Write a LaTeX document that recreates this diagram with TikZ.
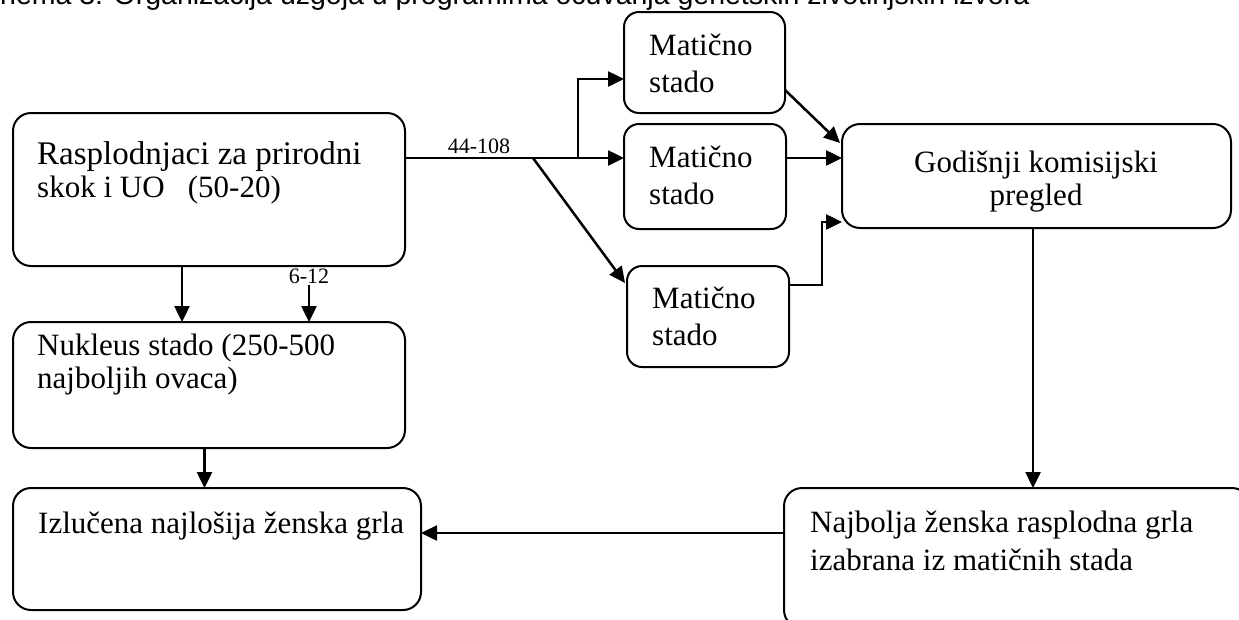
\documentclass[tikz,border=0pt]{standalone}
\usepackage{fontspec}
\newfontfamily\bodyfont{Liberation Serif}
\newfontfamily\capfont{Liberation Sans}
\usetikzlibrary{arrows.meta,calc}
\begin{document}
\begin{tikzpicture}[x=1pt,y=-1pt,
  box/.style={draw,line width=2pt,rounded corners=18pt,inner sep=0pt,outer sep=0pt},
  smallbox/.style={box,rounded corners=15pt},
  txt/.style={anchor=base west,inner sep=0pt,font=\bodyfont\fontsize{31}{35}\selectfont},
  bigtxt/.style={txt,font=\bodyfont\fontsize{33}{37}\selectfont},
  ctxt/.style={txt,anchor=base},
  lbl/.style={anchor=base,inner sep=0pt,font=\bodyfont\fontsize{22}{24}\selectfont},
  conn/.style={line width=2.5pt},
  arr/.style={conn,-{Triangle[length=16pt,width=15pt]}}]
\useasboundingbox (0,0) rectangle (1239,619);
\begin{scope}
\clip (0,0) rectangle (1239,619);

% caption line, cut off at the top edge
\node[anchor=base west,inner sep=0pt,font=\capfont\fontsize{28.5}{30}\selectfont] (cap) at (0,4)
  {\llap{S}hema 3: Organizacija uzgoja u programima očuvanja genetskih životinjskih izvora};

% boxes
\node[box,minimum width=392pt,minimum height=153pt] (A) at (209,189.5) {};
\node[box,minimum width=392pt,minimum height=126pt] (B) at (209,385) {};
\node[box,minimum width=408pt,minimum height=122pt] (C) at (217,549) {};
\node[box,minimum width=389pt,minimum height=104pt] (D) at (1036.5,176) {};
\node[box,minimum width=466pt,minimum height=140pt] (E) at (1017,558) {};
\node[smallbox,minimum width=161pt,minimum height=101pt] (M1) at (704.5,62.5) {};
\node[smallbox,minimum width=162pt,minimum height=105pt] (M2) at (705,176.5) {};
\node[smallbox,minimum width=162pt,minimum height=101pt] (M3) at (708,316.5) {};

% texts
\node[bigtxt] (A1) at (37,164) {Rasplodnjaci za prirodni};
\node[txt] (A2) at (37,197) {skok i UO\ \ \ (50-20)};
\node[txt] (B1) at (37,355) {Nukleus stado (250-500};
\node[txt] (B2) at (37,388) {najboljih ovaca)};
\node[txt] (C1) at (38,533) {Izlučena najlošija ženska grla};
\node[ctxt] (D1) at (1036,172) {Godišnji komisijski};
\node[ctxt] (D2) at (1036,205) {pregled};
\node[txt] (E1) at (810,532) {Najbolja ženska rasplodna grla};
\node[txt] (E2) at (810,570) {izabrana iz matičnih stada};
\node[txt] (M1a) at (649,55) {Matično};
\node[txt] (M1b) at (649,92) {stado};
\node[txt] (M2a) at (649,167) {Matično};
\node[txt] (M2b) at (649,204) {stado};
\node[txt] (M3a) at (652,308) {Matično};
\node[txt] (M3b) at (652,345) {stado};

% connector end points on the box edges
\coordinate (split) at (533,158);
\coordinate (fork) at (578,158);
\coordinate (m1in) at ($(M1.west)+(0,16.5)$);
\coordinate (m3in) at ($(M3.west)+(-2,-33.5)$);
\coordinate (m1out) at ($(M1.east)+(0,27.5)$);
\coordinate (dinA) at ($(D.west)+(-2,-33)$);
\coordinate (m2out) at ($(M2.east)+(0,-18.5)$);
\coordinate (m3out) at ($(M3.east)+(0,-31.5)$);
\coordinate (dinC) at ($(D.west)+(0,46)$);
\coordinate (aout) at ($(A.south)+(-27,0)$);
\coordinate (bout) at ($(B.south)+(-4.5,0)$);
\coordinate (dout) at ($(D.south)+(-3.5,0)$);
\coordinate (eout) at ($(E.north west)+(0,45)$);

% connectors
\draw[conn] (A.east |- split) -- (split);
\node[lbl] (l44) at (479,153) {44-108};
\draw[arr] (split) -- (split -| M2.west);
\draw[arr] (fork) |- (m1in);
\draw[arr] (split) -- (m3in);
\draw[arr] (m1out) -- (dinA);
\draw[arr] (m2out) -- (m2out -| D.west);
\draw[arr] (m3out) -- ++(33,0) |- (dinC);
\draw[arr] (aout) -- (aout |- B.north);
\node[lbl] (l612) at (309,283) {6-12};
\draw[arr] ([yshift=-2pt]l612.south) -- (l612.south |- B.north);
\draw[arr] (bout) -- (bout |- C.north);
\draw[arr] (dout) -- (dout |- E.north);
\draw[arr] (eout) -- (eout -| C.east);
\end{scope}
\end{tikzpicture}
\end{document}
